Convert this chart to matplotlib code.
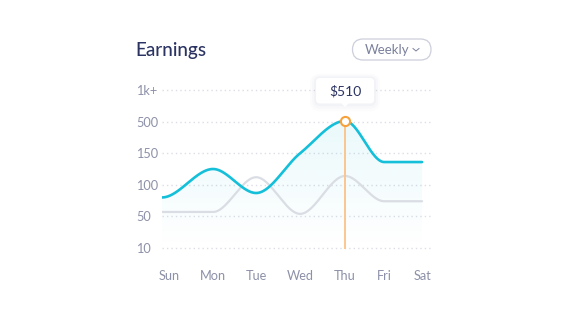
import numpy as np
import matplotlib
matplotlib.use("Agg")
import matplotlib.pyplot as plt
from matplotlib.patches import FancyBboxPatch, Polygon
from matplotlib.transforms import ScaledTranslation
from matplotlib.lines import Line2D

plt.rcParams['font.family'] = ['Lato', 'DejaVu Sans']

# y axis is a ranked scale: each tick gets an equal step
scale_vals = [10, 50, 100, 150, 500, 1000]
scale_labels = ["10", "50", "100", "150", "500", "1k+"]

days = ["Sun", "Mon", "Tue", "Wed", "Thu", "Fri", "Sat"]
day_pos = [0.0, 1.16, 2.14, 3.14, 4.16, 5.05, 5.91]
earnings = [80, 125, 87, 150, 510, 136, 136]
previous = [57, 57, 112, 54, 114, 74, 74]
highlight = 4

CYAN = "#14bfd9"
GREY = "#dadee4"
ORANGE = "#f6a23c"
NAVY = "#2b3362"
LABEL = "#8d91a8"


def to_pos(v):
    return np.interp(v, scale_vals, np.arange(len(scale_vals)))


def monotone(x, y, xs):
    # Fritsch-Carlson monotone cubic
    x = np.asarray(x, float)
    y = np.asarray(y, float)
    h = np.diff(x)
    d = np.diff(y) / h
    m = np.zeros_like(y)
    m[0], m[-1] = d[0], d[-1]
    for k in range(1, len(x) - 1):
        if d[k - 1] * d[k] > 0:
            w1 = 2 * h[k] + h[k - 1]
            w2 = h[k] + 2 * h[k - 1]
            m[k] = (w1 + w2) / (w1 / d[k - 1] + w2 / d[k])
    if d[0] * m[1] <= 0 or abs(d[0]) < 1e-9:
        m[0] = 0
    if d[-1] * m[-2] <= 0 or abs(d[-1]) < 1e-9:
        m[-1] = 0
    idx = np.clip(np.searchsorted(x, xs) - 1, 0, len(x) - 2)
    t = (xs - x[idx]) / h[idx]
    h00 = 2 * t**3 - 3 * t**2 + 1
    h10 = t**3 - 2 * t**2 + t
    h01 = -2 * t**3 + 3 * t**2
    h11 = t**3 - t**2
    return (h00 * y[idx] + h10 * h[idx] * m[idx]
            + h01 * y[idx + 1] + h11 * h[idx] * m[idx + 1])


fig = plt.figure(figsize=(5.68, 3.25), dpi=100)
ax = fig.add_axes([162 / 568, 67 / 325, 270 / 568, 178 / 325])

xs = np.linspace(day_pos[0], day_pos[-1], 600)
earn_curve = monotone(day_pos, to_pos(earnings), xs)
prev_curve = monotone(day_pos, to_pos(previous), xs)

ymin, ymax = -0.316, 5.316

# soft gradient under the earnings line
area = ax.fill_between(xs, 0, earn_curve, color="none", lw=0)
grad = np.zeros((256, 1, 4))
grad[..., :3] = matplotlib.colors.to_rgb(CYAN)
grad[:, 0, 3] = np.linspace(0.0, 0.09, 256)
img = ax.imshow(grad, extent=[xs[0], xs[-1], 0, earn_curve.max()],
                origin="lower", aspect="auto", zorder=1, interpolation="bilinear")
img.set_clip_path(area.get_paths()[0], transform=ax.transData)

ax.plot(xs, prev_curve, color=GREY, lw=1.6, zorder=2, solid_capstyle="round")
ax.plot(xs, earn_curve, color=CYAN, lw=1.9, zorder=3, solid_capstyle="round")

hx = day_pos[highlight]
hy = to_pos(earnings[highlight])
ax.plot([hx, hx], [0, hy], color="#fbc690", lw=1.4, zorder=4)
ax.plot(hx, hy, "o", ms=6.6, mfc="white", mec=ORANGE, mew=1.5, zorder=5)

# tooltip above the highlighted point, sized in inches
tip = fig.dpi_scale_trans + ScaledTranslation(hx, hy, ax.transData)
for grow, a in [(0.06, 0.015), (0.04, 0.025), (0.02, 0.035)]:
    ax.add_patch(FancyBboxPatch((-0.29 - grow, 0.175 - grow * 1.3), 0.58 + 2 * grow,
                                0.255 + 2 * grow,
                                boxstyle=f"round,pad=0,rounding_size={0.04 + grow}",
                                fc="#6a7aa0", ec="none", alpha=a, transform=tip,
                                clip_on=False, zorder=6))
ax.add_patch(FancyBboxPatch((-0.29, 0.175), 0.58, 0.255,
                            boxstyle="round,pad=0,rounding_size=0.04",
                            fc="white", ec="none", transform=tip,
                            clip_on=False, zorder=7))
ax.add_patch(Polygon([(-0.04, 0.18), (0.04, 0.18), (0, 0.14)], closed=True,
                     fc="white", ec="none", transform=tip, clip_on=False, zorder=7))
ax.text(0, 0.30, f"${earnings[highlight]}", transform=tip, ha="center",
        va="center", fontsize=10, color=NAVY, zorder=8)

ax.set_xlim(0, 6.136)
ax.set_ylim(ymin, ymax)
ax.set_yticks(range(len(scale_vals)))
ax.set_yticklabels(scale_labels, ha="left")
ax.set_xticks(day_pos)
ax.set_xticklabels(days)
ax.tick_params(axis="y", length=0, pad=26 * 0.72, labelsize=9.2, labelcolor=LABEL)
ax.tick_params(axis="x", length=0, pad=8.8, labelsize=9.2, labelcolor=LABEL)
sun = ax.get_xticklabels()[0]
sun.set_transform(sun.get_transform() + ScaledTranslation(0.07, 0, fig.dpi_scale_trans))
ax.yaxis.grid(True, color="#dcdde6", lw=1.0, linestyle=(0, (1, 2.2)))
ax.set_axisbelow(True)
for s in ax.spines.values():
    s.set_visible(False)

# header
fig.text(1.355, 2.69, "Earnings", transform=fig.dpi_scale_trans, va="baseline",
         ha="left", fontsize=13.6, color=NAVY, fontweight="medium")
fig.patches.append(FancyBboxPatch((3.525, 2.65), 0.785, 0.21,
                                  boxstyle="round,pad=0,rounding_size=0.105",
                                  fc="white", ec="#cdcfdb", lw=0.9,
                                  transform=fig.dpi_scale_trans, figure=fig))
fig.text(3.87, 2.755, "Weekly", transform=fig.dpi_scale_trans, va="center",
         ha="center", fontsize=9.5, color="#7b809b")
fig.lines.append(Line2D([4.13, 4.16, 4.19], [2.765, 2.74, 2.765], color="#7b809b",
                        lw=0.7, transform=fig.dpi_scale_trans, figure=fig))

fig.savefig("out.png", dpi=100)
